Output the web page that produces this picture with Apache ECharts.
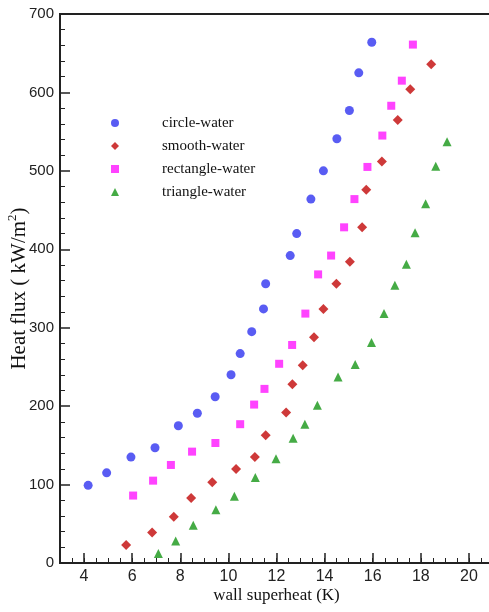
<!DOCTYPE html>
<html>
<head>
<meta charset="utf-8">
<script src="https://cdn.jsdelivr.net/npm/echarts@6/dist/echarts.min.js"></script>
<style>
html,body{margin:0;padding:0;background:#fff;}
#chart{width:489px;height:612px;}
</style>
</head>
<body>
<div id="chart"></div>
<script>
const xTicks = [4, 6, 8, 10, 12, 14, 16, 18, 20];
const seriesNames = ['circle-water', 'smooth-water', 'rectangle-water', 'triangle-water'];

const circleX = [4.17, 4.94, 5.95, 6.95, 7.92, 8.71, 9.45, 10.11, 10.49, 10.97, 11.46, 11.55, 12.57, 12.84, 13.43, 13.95, 14.51, 15.03, 15.42, 15.96];
const circleY = [99, 115, 135, 147, 175, 191, 212, 240, 267, 295, 324, 356, 392, 420, 464, 500, 541, 577, 625, 664];

const smoothX = [5.75, 6.83, 7.73, 8.45, 9.33, 10.32, 11.10, 11.55, 12.40, 12.66, 13.09, 13.56, 13.95, 14.49, 15.05, 15.56, 15.73, 16.38, 17.04, 17.56, 18.43];
const smoothY = [23, 39, 59, 83, 103, 120, 135, 163, 192, 228, 252, 288, 324, 356, 384, 428, 476, 512, 565, 604, 636];

const rectX = [6.04, 6.87, 7.61, 8.49, 9.46, 10.49, 11.07, 11.50, 12.11, 12.65, 13.20, 13.73, 14.27, 14.81, 15.24, 15.78, 16.40, 16.77, 17.21, 17.67];
const rectY = [86, 105, 125, 142, 153, 177, 202, 222, 254, 278, 318, 368, 392, 428, 464, 505, 545, 583, 615, 661];

const triX = [7.09, 7.81, 8.54, 9.48, 10.25, 11.12, 11.98, 12.69, 13.18, 13.70, 14.56, 15.27, 15.95, 16.47, 16.92, 17.40, 17.76, 18.20, 18.62, 19.09];
const triY = [12, 28, 48, 68, 85, 109, 133, 159, 177, 201, 237, 253, 281, 318, 354, 381, 421, 458, 506, 537];

function pairs(xs, ys) { return xs.map((x, i) => [x, ys[i]]); }

const chart = echarts.init(document.getElementById('chart'), null, {renderer: 'canvas'});
const axisColor = '#222';
const sans = 'Liberation Sans';
const serif = 'Liberation Serif';

const option = {
  animation: false,
  backgroundColor: '#fff',
  grid: {
    left: 60, right: -4, top: 14, bottom: 49,
    containLabel: false, outerBoundsMode: 'none',
    show: true, borderColor: axisColor, borderWidth: 2, backgroundColor: 'transparent'
  },
  legend: {
    orient: 'vertical',
    left: 106, top: 110,
    itemWidth: 8, itemHeight: 8, itemGap: 7,
    data: seriesNames,
    formatter: function (name) { return '{g|}' + name; },
    textStyle: {
      fontFamily: serif, fontSize: 15, color: '#111', lineHeight: 16,
      rich: { g: { width: 38 } }
    }
  },
  xAxis: [
    {
      type: 'value', min: 3, max: 21, interval: 1, position: 'bottom',
      name: 'wall superheat (K)', nameLocation: 'middle', nameGap: 24, nameMoveOverlap: false,
      nameTextStyle: { fontFamily: serif, fontSize: 17, color: '#111' },
      axisLine: { show: true, onZero: false, lineStyle: { color: axisColor, width: 2 } },
      axisTick: { show: true, inside: true, length: 10, customValues: xTicks, lineStyle: { color: axisColor, width: 1.5 } },
      axisLabel: { customValues: xTicks, fontFamily: sans, fontSize: 16, color: '#222', margin: 6 },
      splitLine: { show: false }
    },
    {
      type: 'value', min: 3, max: 21, interval: 0.5, position: 'bottom', offset: 0,
      axisLine: { show: false },
      axisTick: { show: true, inside: true, length: 5, lineStyle: { color: axisColor, width: 1 } },
      axisLabel: { show: false },
      splitLine: { show: false }
    }
  ],
  yAxis: {
    type: 'value', min: 0, max: 700, interval: 100,
    name: '{a|Heat flux ( kW/m}{s|2}{a|)}', nameLocation: 'middle', nameGap: 28, nameRotate: 90, nameMoveOverlap: false,
    nameTextStyle: {
      rich: {
        a: { fontFamily: serif, fontSize: 21, color: '#111', lineHeight: 26 },
        s: { fontFamily: serif, fontSize: 13, color: '#111', verticalAlign: 'top', lineHeight: 20 }
      }
    },
    axisLine: { show: true, onZero: false, lineStyle: { color: axisColor, width: 2 } },
    axisTick: { show: true, inside: true, length: 10, lineStyle: { color: axisColor, width: 1.5 } },
    minorTick: { show: true, splitNumber: 5, length: 5, lineStyle: { color: axisColor, width: 1 } },
    axisLabel: { fontFamily: sans, fontSize: 15, color: '#222', margin: 6 },
    splitLine: { show: false },
    minorSplitLine: { show: false }
  },
  series: [
    { name: seriesNames[0], type: 'scatter', symbol: 'circle', symbolSize: 9, itemStyle: { color: '#2f33f0' }, data: pairs(circleX, circleY) },
    { name: seriesNames[1], type: 'scatter', symbol: 'diamond', symbolSize: 10, itemStyle: { color: '#c20808' }, data: pairs(smoothX, smoothY) },
    { name: seriesNames[2], type: 'scatter', symbol: 'rect', symbolSize: 8, itemStyle: { color: '#ff14ff' }, data: pairs(rectX, rectY) },
    { name: seriesNames[3], type: 'scatter', symbol: 'triangle', symbolSize: 9, itemStyle: { color: '#169616' }, data: pairs(triX, triY) }
  ]
};
chart.setOption(option);
</script>
</body>
</html>
